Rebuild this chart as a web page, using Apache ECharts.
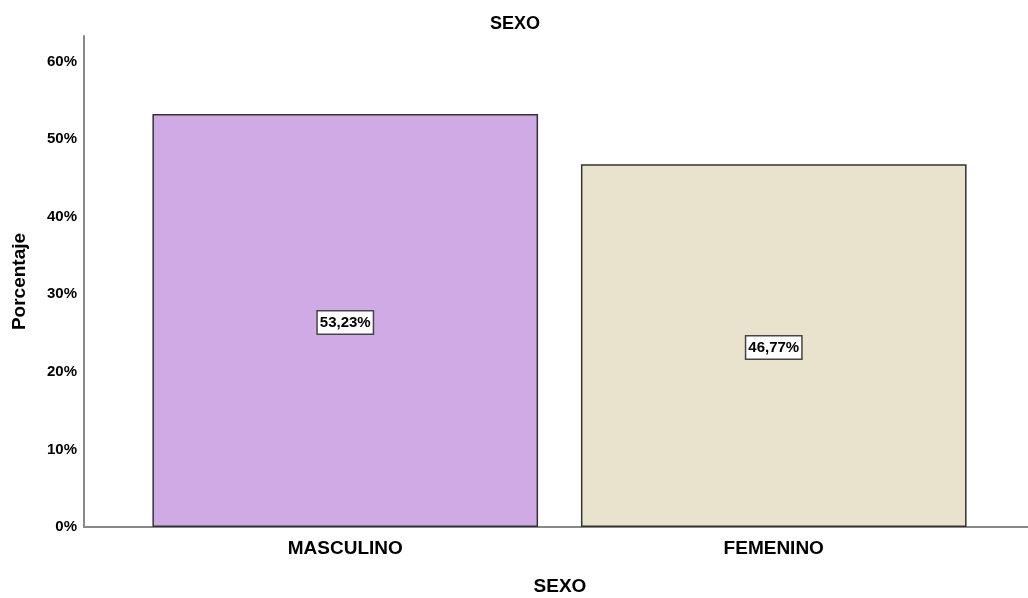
<!DOCTYPE html>
<html>
<head>
<meta charset="utf-8">
<script src="https://cdn.jsdelivr.net/npm/echarts@6/dist/echarts.min.js"></script>
<style>
  html, body { margin: 0; padding: 0; background: #fff; }
  #main { width: 1028px; height: 598px; }
</style>
</head>
<body>
<div id="main"></div>
<script>
var categories = ['MASCULINO', 'FEMENINO'];
var percentages = [53.23, 46.77];
var barColors = ['#D0AAE4', '#E9E2CD'];
var yTicks = [0, 10, 20, 30, 40, 50, 60];

var sans = '"Liberation Sans", Arial, sans-serif';
var yMax = 63.3;

var myChart = echarts.init(document.getElementById('main'));

myChart.setOption({
    animation: false,
    title: {
        text: 'SEXO',
        left: 510, top: 10, textAlign: 'center',
        textStyle: { fontFamily: sans, fontSize: 18, fontWeight: 'bold', color: '#000' }
    },
    grid: [
        { left: 84, right: 0, top: 36, bottom: 71, outerBoundsMode: 'none' },
        { left: 131, right: 40, top: 36, bottom: 71, outerBoundsMode: 'none' }
    ],
    xAxis: [
        {
            gridIndex: 0, type: 'value', min: 0, max: 1,
            axisLine: { show: true, onZero: false, lineStyle: { color: '#888', width: 2 } },
            axisTick: { show: false }, axisLabel: { show: false }, splitLine: { show: false },
            name: 'SEXO', nameLocation: 'middle', nameGap: 50,
            nameTextStyle: { fontFamily: sans, fontSize: 19, fontWeight: 'bold', color: '#000', padding: [0, 0, 0, 8] }
        },
        {
            gridIndex: 1, type: 'category', data: categories,
            axisLine: { show: false }, axisTick: { show: false },
            axisLabel: { margin: 12, fontFamily: sans, fontSize: 19, fontWeight: 'bold', color: '#000' }
        }
    ],
    yAxis: [
        {
            gridIndex: 0, type: 'value', min: 0, max: yMax, interval: 10,
            axisLine: { show: true, lineStyle: { color: '#888', width: 2 } },
            axisTick: { show: false }, splitLine: { show: false },
            axisLabel: {
                margin: 7, fontFamily: sans, fontSize: 15, fontWeight: 'bold', color: '#000',
                formatter: function (v) { return yTicks.indexOf(v) >= 0 ? v + '%' : ''; }
            },
            name: 'Porcentaje', nameLocation: 'middle', nameGap: 55, nameRotate: 90,
            nameTextStyle: { fontFamily: sans, fontSize: 19, fontWeight: 'bold', color: '#000' }
        },
        {
            gridIndex: 1, type: 'value', min: 0, max: yMax, interval: 10, show: false
        }
    ],
    series: [{
        type: 'bar',
        xAxisIndex: 1, yAxisIndex: 1,
        barCategoryGap: '10%',
        data: percentages.map(function (v, i) {
            return { value: v, itemStyle: { color: barColors[i] } };
        }),
        itemStyle: { borderColor: '#333', borderWidth: 1.5 },
        label: {
            show: true, position: 'inside',
            formatter: function (p) { return p.value.toFixed(2).replace('.', ',') + '%'; },
            fontFamily: sans, fontSize: 15, fontWeight: 'bold', color: '#000',
            backgroundColor: '#fff', borderColor: '#444', borderWidth: 1.5,
            padding: [4, 2, 3, 2], offset: [0, 2]
        }
    }]
});
</script>
</body>
</html>
